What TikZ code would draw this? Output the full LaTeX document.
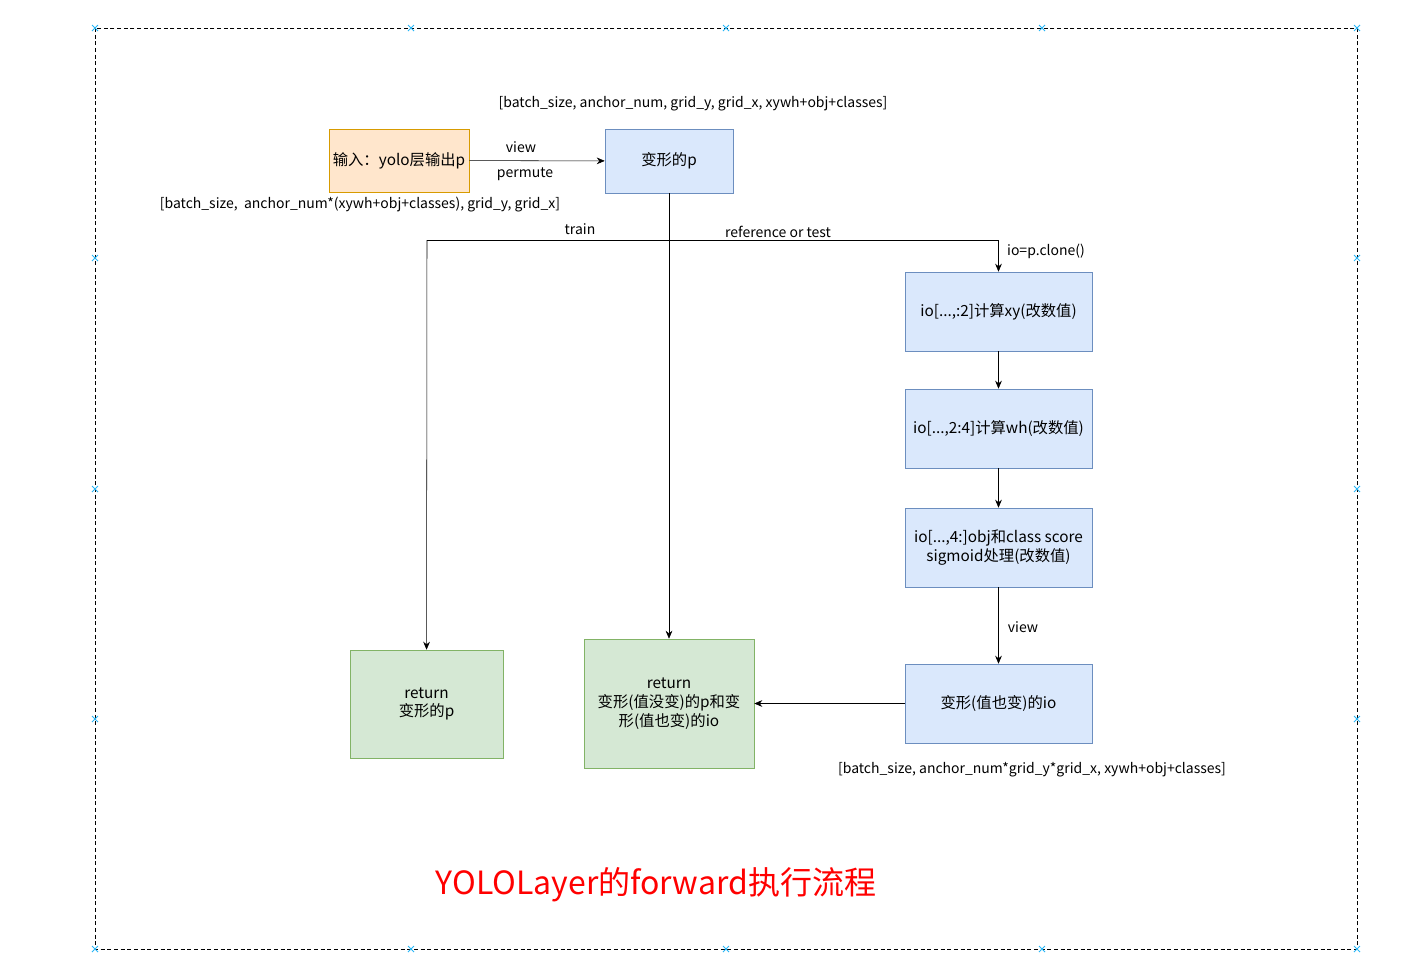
\documentclass[tikz,border=0pt]{standalone}
\usepackage{fontspec}
\usetikzlibrary{arrows.meta}
\setmainfont{Noto Sans CJK SC}
\begin{document}
\begin{tikzpicture}[x=0.75pt,y=-0.75pt,
  box/.style={draw,align=center,inner sep=1pt,font=\fontsize{11.5}{14}\selectfont},
  lbl/.style={font=\fontsize{10.5}{12}\selectfont,inner sep=1pt},
  arr/.style={-{Stealth[length=6pt,width=5pt]}},
  mk/.style={draw={rgb,255:red,41;green,182;blue,246},line width=0.6pt}]
\useasboundingbox (0,0) rectangle (1415,976);
\definecolor{bf}{RGB}{218,232,252}
\definecolor{bd}{RGB}{108,142,191}
\definecolor{gf}{RGB}{213,232,212}
\definecolor{gd}{RGB}{130,179,102}
\definecolor{of}{RGB}{255,230,204}
\definecolor{od}{RGB}{215,155,0}
\draw[densely dashed] (95,28) rectangle (1357,949);
\foreach \x in {95,411,726,1042,1357}{
  \draw[mk] (\x-3,25)--(\x+3,31) (\x-3,31)--(\x+3,25);
  \draw[mk] (\x-3,946)--(\x+3,952) (\x-3,952)--(\x+3,946);}
\foreach \y in {258,489,719}{
  \draw[mk] (92,\y-3)--(98,\y+3) (92,\y+3)--(98,\y-3);
  \draw[mk] (1354,\y-3)--(1360,\y+3) (1354,\y+3)--(1360,\y-3);}
\node[box,fill=of,draw=od,minimum width=105pt,minimum height=47.25pt] (in) at (399,160.5) {输入：yolo层输出p};
\node[box,fill=bf,draw=bd,minimum width=96pt,minimum height=48pt] (p) at (669,161) {变形的p};
\tikzset{bb/.style={box,fill=bf,draw=bd,minimum width=140.25pt,minimum height=59.25pt}}
\node[bb] (io1) at (998.5,311.5) {io[...,:2]计算xy(改数值)};
\node[bb] (io2) at (998.5,428.5) {io[...,2:4]计算wh(改数值)};
\node[bb] (io3) at (998.5,547.5) {io[...,4:]obj和class score\\sigmoid处理(改数值)};
\node[bb] (io4) at (998.5,703.5) {变形(值也变)的io};
\node[box,fill=gf,draw=gd,minimum width=114.75pt,minimum height=81pt] (r1) at (426.5,704) {return\\变形的p};
\node[box,fill=gf,draw=gd,minimum width=127.5pt,minimum height=96.75pt] (r2) at (669,703.5) {return\\变形(值没变)的p和变\\形(值也变)的io};
\draw[arr] (in) -- (p);
\node[lbl] at (521,147) {view};
\node[lbl] at (525,174) {permute};
\draw[arr] (p) -- (r2);
\coordinate (L) at (427,240); \coordinate (R) at (998.5,240);
\draw[arr] (L) -- (R) -- (io1);
\draw[arr] (L) -- (r1);
\node[lbl] at (580,229) {train};
\node[lbl] at (778,232) {reference or test};
\node[lbl] at (1046,251) {io=p.clone()};
\draw[arr] (io1) -- (io2);
\draw[arr] (io2) -- (io3);
\draw[arr] (io3) -- (io4);
\node[lbl] at (1023,627) {view};
\draw[arr] (io4) -- (r2);
\node[lbl] at (693,104) {[batch\_size, anchor\_num, grid\_y, grid\_x, xywh+obj+classes]};
\node[lbl] at (360,205) {[batch\_size,\ \ anchor\_num*(xywh+obj+classes), grid\_y, grid\_x]};
\node[lbl] at (1032,770) {[batch\_size, anchor\_num*grid\_y*grid\_x, xywh+obj+classes]};
\node[text=red,font=\fontsize{24}{27}\selectfont] at (656,885) {YOLOLayer的forward执行流程};
\end{tikzpicture}
\end{document}
